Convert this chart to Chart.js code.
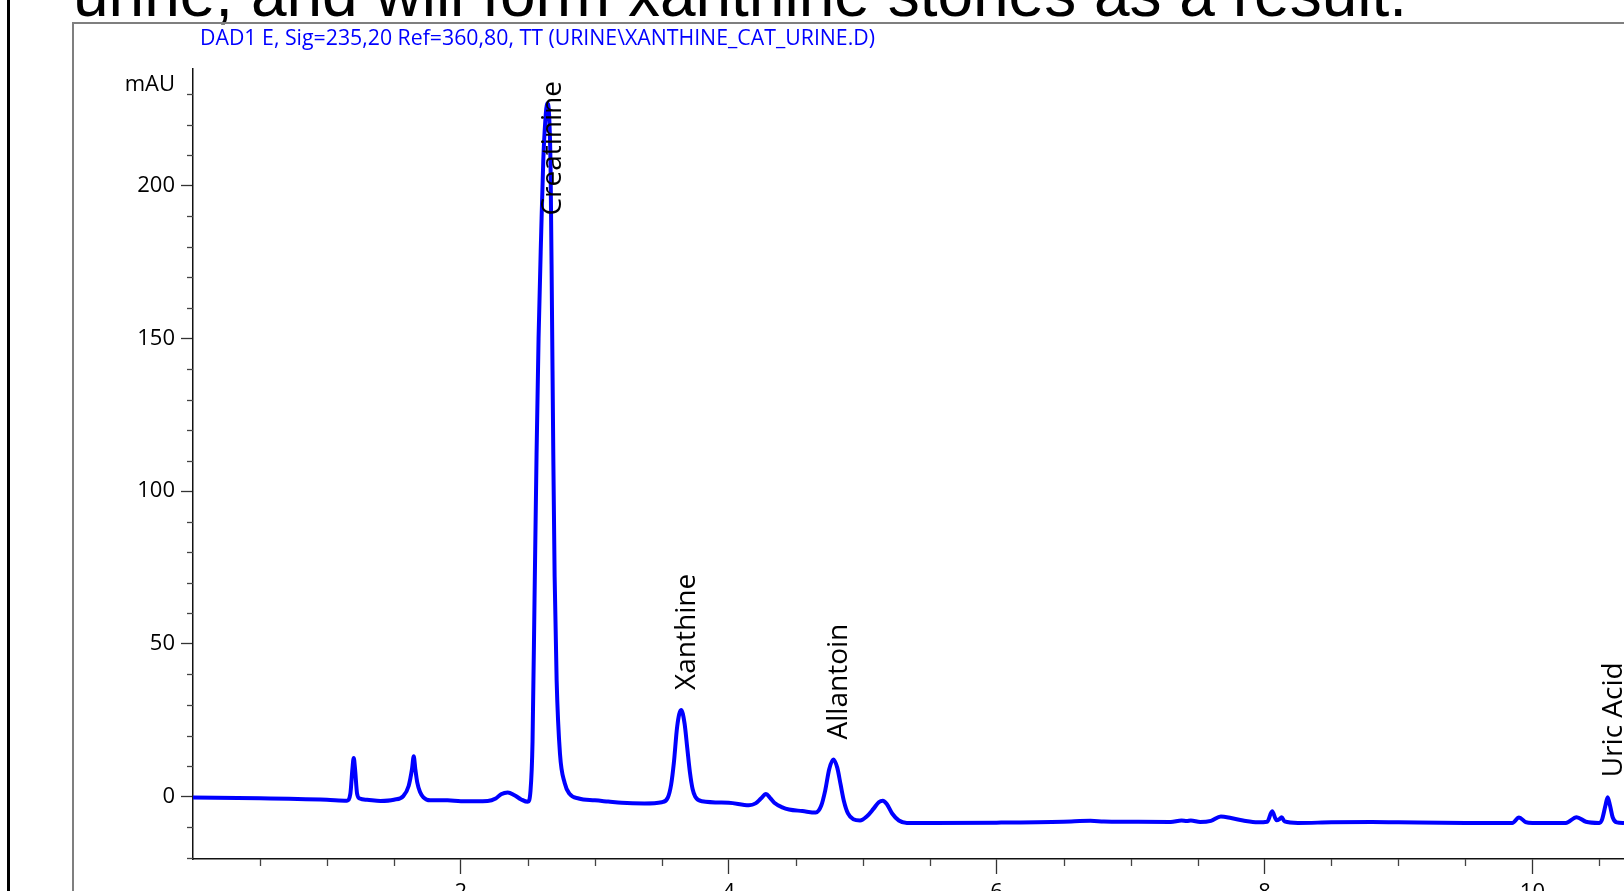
<!DOCTYPE html>
<html>
<head>
<meta charset="utf-8">
<title>Xanthine cat urine chromatogram</title>
<script src="https://cdn.jsdelivr.net/npm/chart.js@4.4.1/dist/chart.umd.min.js"></script>
<style>
  html, body { margin: 0; padding: 0; background: #fff; overflow: hidden; }
  #slide { position: relative; width: 1624px; height: 891px; }
  #sentence {
    position: absolute; left: 73px; top: -38px; white-space: nowrap;
    font-family: 'Liberation Sans', Arial, sans-serif; font-size: 64px; line-height: 64px; color: #000;
  }
  #outerLine { position: absolute; left: 7px; top: 0; width: 3px; height: 891px; background: #000; }
  #frame {
    position: absolute; left: 72px; top: 22px; width: 1600px; height: 900px;
    border-left: 2px solid #7f7f7f; border-top: 2px solid #7f7f7f;
  }
  #myChart { position: absolute; left: 0; top: 0; }
</style>
</head>
<body>
<div id="slide">
  <div id="outerLine"></div>
  <div id="sentence">urine, and will form xanthine stones as a result.</div>
  <div id="frame"></div>
  <canvas id="myChart" width="1624" height="891"></canvas>
</div>
<script>
const ctx = document.getElementById('myChart');

const signalTitle = 'DAD1 E, Sig=235,20 Ref=360,80, TT (URINE\\XANTHINE_CAT_URINE.D)';
const yUnit = 'mAU';

// retention time (min) and absorbance (mAU)
const retentionTime = [
  0.00, 0.50, 1.00, 1.15, 1.175, 1.19, 1.20, 1.21, 1.225, 1.245, 1.30, 1.40, 1.50, 1.57, 1.61, 1.635,
  1.648, 1.66, 1.675, 1.695, 1.72, 1.77, 1.90, 2.00, 2.20, 2.26, 2.30, 2.35, 2.40, 2.45, 2.50, 2.52,
  2.535, 2.55, 2.565, 2.58, 2.60, 2.615, 2.63, 2.645, 2.66, 2.67, 2.68, 2.69, 2.70, 2.715, 2.74, 2.775,
  2.81, 2.88, 3.00, 3.10, 3.20, 3.37, 3.50, 3.545, 3.57, 3.59, 3.615, 3.644, 3.67, 3.69, 3.71, 3.73,
  3.75, 3.80, 4.00, 4.15, 4.20, 4.24, 4.278, 4.31, 4.34, 4.40, 4.45, 4.55, 4.65, 4.69, 4.72, 4.75,
  4.781, 4.81, 4.835, 4.86, 4.89, 4.93, 4.98, 5.03, 5.08, 5.12, 5.15, 5.18, 5.22, 5.27, 5.33, 5.50,
  6.00, 6.50, 6.70, 6.80, 7.00, 7.30, 7.38, 7.42, 7.45, 7.52, 7.60, 7.674, 7.75, 7.84, 7.95, 8.02,
  8.057, 8.09, 8.11, 8.128, 8.15, 8.25, 8.50, 8.80, 9.00, 9.50, 9.85, 9.90, 9.95, 10.00, 10.25, 10.33,
  10.40, 10.50, 10.52, 10.545, 10.562, 10.58, 10.60, 10.63, 10.684
];
const absorbance = [
  -0.3, -0.5, -1.0, -1.3, 1, 9, 12.7, 9, 1, -0.6, -1.0, -1.4, -1.0, 0.2, 3.5, 9,
  13.2, 9, 4.5, 1.5, -0.2, -1.2, -1.2, -1.5, -1.4, -0.6, 0.8, 1.4, 0.5, -0.9, -1.7, 2,
  18, 65, 112, 150, 185, 208, 221, 227, 222, 205, 160, 112, 72, 38, 14, 4.5,
  1, -0.6, -1.2, -1.6, -2.0, -2.2, -1.8, -0.3, 4, 11, 23, 28.4, 24, 16, 8, 2.5,
  0, -1.5, -2.0, -2.8, -2.2, -0.6, 0.9, -0.5, -2.0, -3.5, -4.2, -4.7, -5.2, -3.0, 2, 9,
  12.2, 9.5, 4, -1.5, -5.5, -7.4, -7.8, -6.5, -4.0, -1.8, -1.3, -2.4, -5.5, -7.8, -8.6, -8.6,
  -8.5, -8.2, -7.9, -8.1, -8.2, -8.3, -7.8, -8.0, -7.8, -8.3, -7.9, -6.5, -7.0, -7.8, -8.4, -8.2,
  -4.8, -7.7, -7.4, -6.7, -8.1, -8.6, -8.4, -8.3, -8.4, -8.6, -8.6, -6.8, -8.3, -8.6, -8.6, -6.7,
  -8.2, -8.6, -7.5, -3, -0.2, -3, -6.8, -8.4, -8.6
];

// named peaks
const peakNames = ['Creatinine', 'Xanthine', 'Allantoin', 'Uric Acid'];
const peakTimes = [2.645, 3.644, 4.781, 10.562];
const peakHeights = [227, 28.4, 12.2, -0.2];

const xMin = 0, xMax = 10.684;
const yMin = -20.4, yMax = 238.2;

let points = retentionTime.map((t, i) => ({ x: t, y: absorbance[i] }));

// ticks every 0.5 / 10, only the labelled ones get the long mark
function isMajorX(v) { return v > 0 && Math.abs(v % 2) < 1e-6; }
function isMajorY(v) { return Math.abs(v % 50) < 1e-6; }

const minorTicks = {
  id: 'minorTicks',
  afterDraw(chart) {
    const c = chart.ctx;
    const xs = chart.scales.x, ys = chart.scales.y;
    c.save();
    c.strokeStyle = '#444';
    c.lineWidth = 1.3;
    xs.ticks.forEach(t => {
      if (t.value === 0 || isMajorX(t.value)) return;
      const px = Math.round(xs.getPixelForValue(t.value)) + 0.5;
      c.beginPath();
      c.moveTo(px, xs.top);
      c.lineTo(px, xs.top + 7);
      c.stroke();
    });
    ys.ticks.forEach(t => {
      if (isMajorY(t.value)) return;
      const py = Math.round(ys.getPixelForValue(t.value)) + 0.5;
      c.beginPath();
      c.moveTo(ys.right - 6, py);
      c.lineTo(ys.right, py);
      c.stroke();
    });
    c.restore();
  }
};

const textLayer = {
  id: 'textLayer',
  afterDatasetsDraw(chart) {
    const c = chart.ctx;
    const area = chart.chartArea;
    const xs = chart.scales.x, ys = chart.scales.y;
    c.save();

    // signal header, fitted to the width of the original line
    c.font = '21px "Open Sans"';
    c.fillStyle = '#0000ff';
    c.textBaseline = 'alphabetic';
    c.textAlign = 'left';
    const w = c.measureText(signalTitle).width;
    const target = 675;
    c.translate(200, 45);
    c.scale(target / w, 1);
    c.fillText(signalTitle, 0, 0);
    c.setTransform(1, 0, 0, 1, 0, 0);

    // unit label above the y axis
    c.fillStyle = '#000';
    c.font = '22px "Open Sans"';
    c.textAlign = 'right';
    c.textBaseline = 'middle';
    c.fillText(yUnit, ys.right - 18, area.top + 16);

    // peak names, rotated
    c.font = '28px "Open Sans"';
    c.textAlign = 'left';
    c.textBaseline = 'middle';
    peakNames.forEach((name, i) => {
      const px = xs.getPixelForValue(peakTimes[i]) + 6;
      const tw = c.measureText(name).width;
      let start = ys.getPixelForValue(peakHeights[i]) - 20;
      start = Math.max(start, area.top + 12 + tw);
      c.save();
      c.translate(px, start);
      c.rotate(-Math.PI / 2);
      c.fillText(name, 0, 0);
      c.restore();
    });
    c.restore();
  }
};

new Chart(ctx, {
  type: 'line',
  data: {
    datasets: [{
      label: 'DAD1 E',
      data: points,
      borderColor: '#0000ff',
      borderWidth: 4,
      pointRadius: 0,
      fill: false,
      cubicInterpolationMode: 'monotone'
    }]
  },
  options: {
    responsive: false,
    animation: false,
    devicePixelRatio: 1,
    layout: { padding: { top: 69, left: 0, right: 0, bottom: 0 } },
    plugins: {
      legend: { display: false },
      title: { display: false },
      tooltip: { enabled: false }
    },
    scales: {
      x: {
        type: 'linear',
        position: 'bottom',
        min: xMin,
        max: xMax,
        afterFit: scale => { scale.height = 32; },
        border: { color: '#111', width: 1.5 },
        grid: {
          drawOnChartArea: false,
          drawTicks: true,
          tickLength: 15,
          tickWidth: 1.3,
          tickColor: c => (c.tick && isMajorX(c.tick.value)) ? '#333' : 'rgba(0,0,0,0)'
        },
        ticks: {
          stepSize: 0.5,
          includeBounds: false,
          autoSkip: false,
          maxRotation: 0,
          padding: 6,
          color: '#000',
          font: { family: 'Open Sans', size: 22 },
          callback: v => isMajorX(v) ? String(Math.round(v)) : ''
        }
      },
      y: {
        min: yMin,
        max: yMax,
        afterFit: scale => { scale.width = 193; },
        border: { color: '#111', width: 1.5 },
        grid: {
          drawOnChartArea: false,
          drawTicks: true,
          tickLength: 12,
          tickWidth: 1.3,
          tickColor: c => (c.tick && isMajorY(c.tick.value)) ? '#333' : 'rgba(0,0,0,0)'
        },
        ticks: {
          stepSize: 10,
          includeBounds: false,
          autoSkip: false,
          padding: 6,
          color: '#000',
          font: { family: 'Open Sans', size: 22 },
          callback: v => isMajorY(v) ? String(Math.round(v)) : ''
        }
      }
    }
  },
  plugins: [minorTicks, textLayer]
});
</script>
</body>
</html>
